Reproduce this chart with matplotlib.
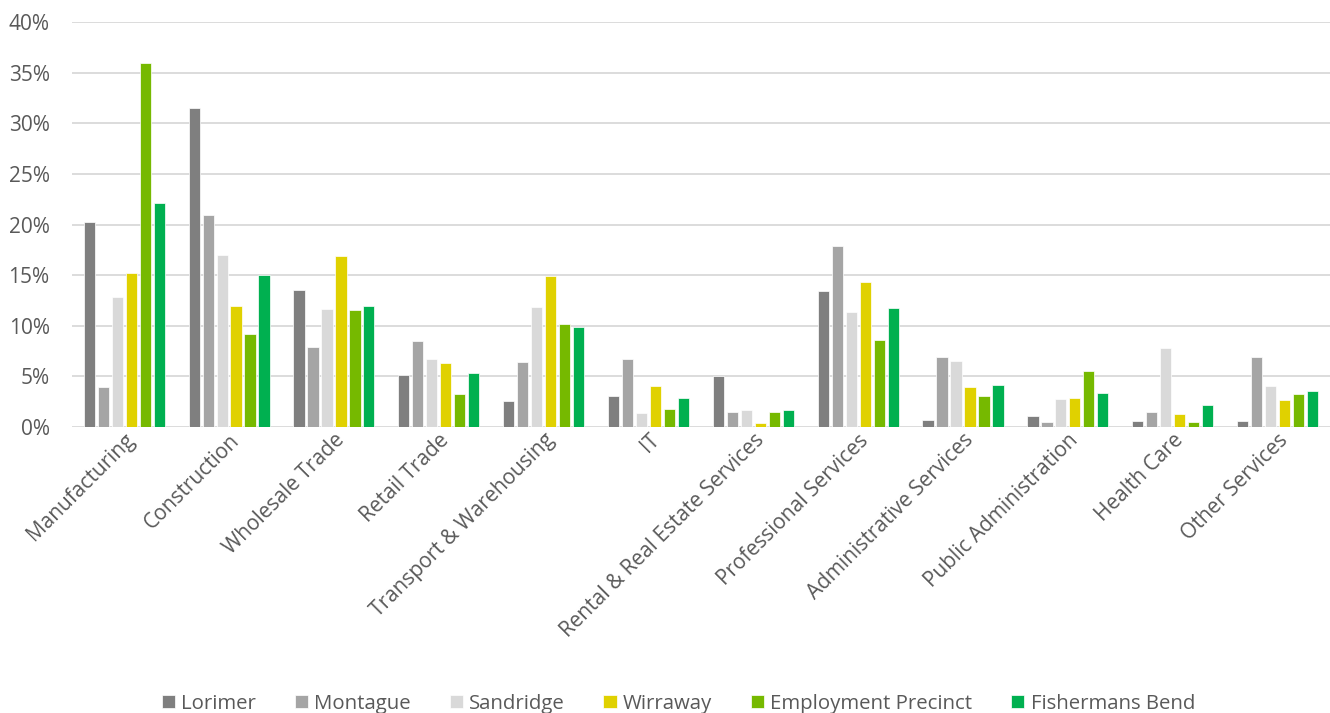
import numpy as np
import matplotlib.pyplot as plt
from matplotlib.ticker import PercentFormatter

plt.rcParams['font.family'] = ['Open Sans', 'DejaVu Sans']

industries = ["Manufacturing", "Construction", "Wholesale Trade", "Retail Trade",
              "Transport & Warehousing", "IT", "Rental & Real Estate Services",
              "Professional Services", "Administrative Services",
              "Public Administration", "Health Care", "Other Services"]

lorimer    = [20.3, 31.5, 13.5, 5.1, 2.6, 3.1, 5.0, 13.4, 0.7, 1.1, 0.6, 0.6]
montague   = [4.0, 20.9, 7.9, 8.5, 6.4, 6.7, 1.5, 17.9, 6.9, 0.5, 1.5, 6.9]
sandridge  = [12.8, 17.0, 11.7, 6.7, 11.9, 1.4, 1.7, 11.4, 6.5, 2.8, 7.8, 4.1]
wirraway   = [15.2, 12.0, 16.9, 6.3, 14.9, 4.1, 0.4, 14.3, 4.0, 2.9, 1.3, 2.7]
employment = [36.0, 9.2, 11.6, 3.3, 10.2, 1.8, 1.5, 8.6, 3.1, 5.5, 0.5, 3.3]
fishermans = [22.1, 15.0, 12.0, 5.3, 9.9, 2.9, 1.7, 11.8, 4.2, 3.4, 2.2, 3.6]

series = [("Lorimer", lorimer, "#7f7f7f"),
          ("Montague", montague, "#a5a5a5"),
          ("Sandridge", sandridge, "#d9d9d9"),
          ("Wirraway", wirraway, "#e0d100"),
          ("Employment Precinct", employment, "#76b900"),
          ("Fishermans Bend", fishermans, "#00b050")]

fig = plt.figure(figsize=(13.3, 7.13), dpi=100)
ax = fig.add_axes([0.054, 0.401, 0.946, 0.568])

x = np.arange(len(industries))
slot = 0.8 / len(series)
for i, (name, vals, col) in enumerate(series):
    ax.bar(x - 0.4 + slot * (i + 0.5), vals, width=slot * 0.8, color=col,
           edgecolor='white', linewidth=0.5, label=name, zorder=3)

ax.set_xlim(-0.5, len(industries) - 0.5)
ax.set_ylim(0, 40)
ax.set_yticks(np.arange(0, 41, 5))
ax.yaxis.set_major_formatter(PercentFormatter(decimals=0))
ax.grid(axis='y', color='#d9d9d9', linewidth=1.3, zorder=0)
for s in ax.spines.values():
    s.set_visible(False)
ax.tick_params(length=0, colors='#595959', labelsize=15)
ax.tick_params(axis='y', pad=16)
ax.tick_params(axis='x', pad=2)
ax.set_xticks(x)
ax.set_xticklabels(industries, rotation=45, ha='right', rotation_mode='anchor')

fig.legend(loc='center', bbox_to_anchor=(0.51, 0.013), ncol=6, frameon=False,
           fontsize=14.7, handlelength=0.65, handleheight=0.65, handletextpad=0.3,
           columnspacing=1.9, labelcolor='#595959')

fig.savefig('out.png', dpi=100)
